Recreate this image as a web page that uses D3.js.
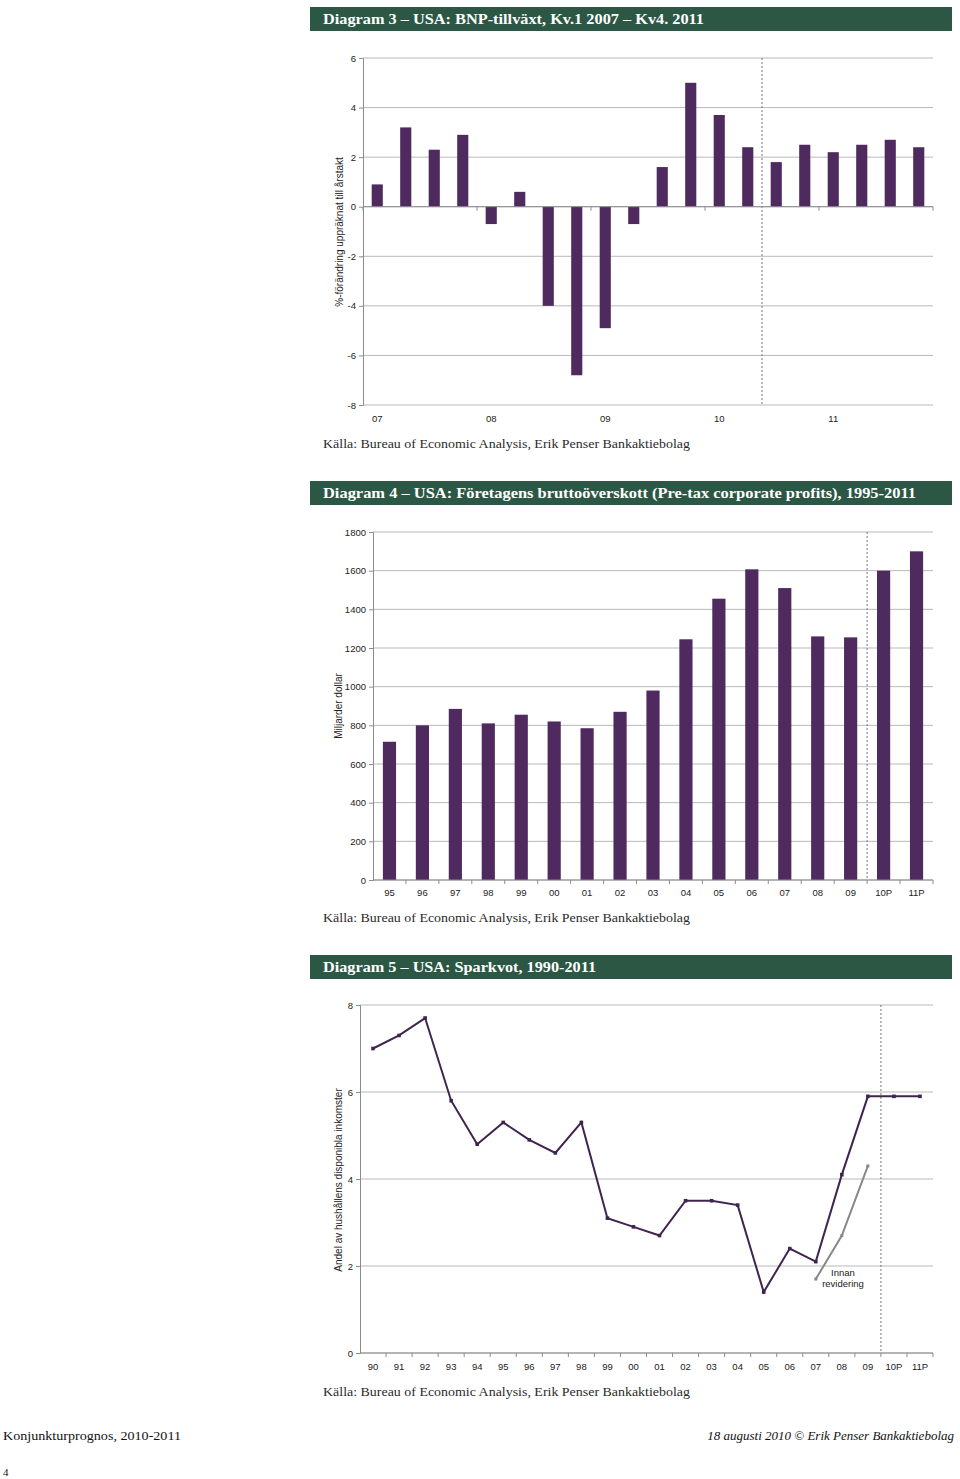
<!DOCTYPE html>
<html><head><meta charset="utf-8">
<script src="https://cdn.jsdelivr.net/npm/d3@7/dist/d3.min.js"></script>
<style>body{margin:0;background:#fff}svg{display:block}</style>
</head><body>
<script>
// ---------- DATA ----------
const gdpQuarters = ["07Q1","07Q2","07Q3","07Q4","08Q1","08Q2","08Q3","08Q4","09Q1","09Q2","09Q3","09Q4","10Q1","10Q2","10Q3","10Q4","11Q1","11Q2","11Q3","11Q4"];
const gdpValues = [0.9,3.2,2.3,2.9,-0.7,0.6,-4.0,-6.8,-4.9,-0.7,1.6,5.0,3.7,2.4,1.8,2.5,2.2,2.5,2.7,2.4];
const gdpYearLabels = ["07","08","09","10","11"];
const gdpTicks = [-8,-6,-4,-2,0,2,4,6];

const profitYears = ["95","96","97","98","99","00","01","02","03","04","05","06","07","08","09","10P","11P"];
const profitValues = [715,800,885,810,855,820,785,870,980,1245,1455,1607,1510,1260,1255,1600,1700];
const profitTicks = [0,200,400,600,800,1000,1200,1400,1600,1800];

const saveYears = ["90","91","92","93","94","95","96","97","98","99","00","01","02","03","04","05","06","07","08","09","10P","11P"];
const saveValues = [7.0,7.3,7.7,5.8,4.8,5.3,4.9,4.6,5.3,3.1,2.9,2.7,3.5,3.5,3.4,1.4,2.4,2.1,4.1,5.9,5.9,5.9];
const prevYears = ["07","08","09"];
const prevValues = [1.7,2.7,4.3];
const saveTicks = [0,2,4,6,8];

const titles = [
  "Diagram 3 – USA: BNP-tillväxt, Kv.1 2007 – Kv4. 2011",
  "Diagram 4 – USA: Företagens bruttoöverskott (Pre-tax corporate profits), 1995-2011",
  "Diagram 5 – USA: Sparkvot, 1990-2011"
];
const yTitles = ["%-förändring uppräknat till årstakt","Miljarder dollar","Andel av hushållens disponibla inkomster"];
const source = "Källa: Bureau of Economic Analysis, Erik Penser Bankaktiebolag";

// ---------- STYLE ----------
const GREEN = "#2b5744", PURPLE = "#4f2a5f", GRID = "#b9b9b9", AX = "#8c8c8c";
const SANS = "'Liberation Sans', Arial, sans-serif";
const SERIF = "'Liberation Serif', 'DejaVu Serif', serif";

const svg = d3.select("body").append("svg").attr("width",960).attr("height",1479);

function header(y, text, len){
  svg.append("rect").attr("x",310).attr("y",y).attr("width",642).attr("height",24).attr("fill",GREEN);
  svg.append("text").attr("x",323).attr("y",y+17).attr("fill","#fff")
    .attr("font-family",SERIF).attr("font-weight","bold").attr("font-size",15)
    .attr("textLength",len).attr("lengthAdjust","spacingAndGlyphs").text(text);
}
function sourceLine(y){
  svg.append("text").attr("x",323).attr("y",y).attr("fill","#2a2a2a")
    .attr("font-family",SERIF).attr("font-size",13.5)
    .attr("textLength",367).attr("lengthAdjust","spacingAndGlyphs").text(source);
}
function yTitle(x, yc, text){
  svg.append("text").attr("transform",`translate(${x},${yc}) rotate(-90)`)
    .attr("text-anchor","middle").attr("font-family",SANS).attr("font-size",10)
    .attr("fill","#222").text(text);
}
const hyphenFmt = d => String(d);
function yAxis(g, y, x0, x1, ticks){
  g.selectAll(".grid").data(ticks).join("line")
    .attr("x1",x0).attr("x2",x1).attr("y1",d=>y(d)).attr("y2",d=>y(d))
    .attr("stroke",GRID).attr("stroke-width",1);
  const ax = g.append("g").attr("transform",`translate(${x0},0)`)
    .call(d3.axisLeft(y).tickValues(ticks).tickSize(4).tickPadding(3).tickFormat(hyphenFmt));
  ax.select(".domain").attr("stroke",AX);
  ax.selectAll(".tick line").attr("stroke",AX);
  ax.selectAll("text").attr("font-family",SANS).attr("font-size",9.5).attr("fill","#222");
}

// ---------- CHART 1 ----------
header(7, titles[0], 381);
{
  const g = svg.append("g");
  const x = d3.scaleBand().domain(gdpQuarters).range([363,933]).paddingInner(0.61).paddingOuter(0.305);
  const y = d3.scaleLinear().domain([-8,6]).range([405,58]);
  yAxis(g, y, 363, 933, gdpTicks);
  const step = x.step();
  const xd = x("10Q3") - x.paddingInner()*step/2;
  g.append("line").attr("x1",xd).attr("x2",xd).attr("y1",58).attr("y2",405)
    .attr("stroke","#777").attr("stroke-dasharray","2,2");
  g.selectAll(".bar").data(gdpValues).join("rect")
    .attr("x",(d,i)=>x(gdpQuarters[i])).attr("width",x.bandwidth())
    .attr("y",d=>y(Math.max(0,d))).attr("height",d=>Math.abs(y(d)-y(0)))
    .attr("fill",PURPLE);
  g.append("line").attr("x1",363).attr("x2",933).attr("y1",y(0)).attr("y2",y(0)).attr("stroke",AX);
  const yearStarts = gdpQuarters.filter(q=>q.endsWith("Q1"));
  g.selectAll(".yt").data(yearStarts.concat(["end"])).join("line")
    .attr("x1",d=> d==="end"?933:x(d)-x.paddingInner()*step/2)
    .attr("x2",d=> d==="end"?933:x(d)-x.paddingInner()*step/2)
    .attr("y1",y(0)).attr("y2",y(0)+4).attr("stroke",AX);
  g.selectAll(".xl").data(gdpYearLabels).join("text")
    .attr("x",(d,i)=>x(yearStarts[i])+x.bandwidth()/2).attr("y",422)
    .attr("text-anchor","middle").attr("font-family",SANS).attr("font-size",9.5).attr("fill","#222")
    .text(d=>d);
  yTitle(343, 232, yTitles[0]);
}
sourceLine(448);

// ---------- CHART 2 ----------
header(481, titles[1], 593);
{
  const g = svg.append("g");
  const x = d3.scaleBand().domain(profitYears).range([373,933]).paddingInner(0.6).paddingOuter(0.3);
  const y = d3.scaleLinear().domain([0,1800]).range([880,532]);
  yAxis(g, y, 373, 933, profitTicks);
  const step = x.step();
  const xd = x("10P") - x.paddingInner()*step/2;
  g.append("line").attr("x1",xd).attr("x2",xd).attr("y1",532).attr("y2",880)
    .attr("stroke","#777").attr("stroke-dasharray","2,2");
  g.selectAll(".bar").data(profitValues).join("rect")
    .attr("x",(d,i)=>x(profitYears[i])).attr("width",x.bandwidth())
    .attr("y",d=>y(d)).attr("height",d=>y(0)-y(d)).attr("fill",PURPLE);
  g.append("line").attr("x1",373).attr("x2",933).attr("y1",y(0)).attr("y2",y(0)).attr("stroke",AX);
  g.selectAll(".xt").data(profitYears).join("line")
    .attr("x1",d=>x(d)+x.bandwidth()+x.paddingInner()*step/2).attr("x2",d=>x(d)+x.bandwidth()+x.paddingInner()*step/2)
    .attr("y1",y(0)).attr("y2",y(0)+4).attr("stroke",AX);
  g.selectAll(".xl").data(profitYears).join("text")
    .attr("x",d=>x(d)+x.bandwidth()/2).attr("y",896)
    .attr("text-anchor","middle").attr("font-family",SANS).attr("font-size",9.5).attr("fill","#222").text(d=>d);
  yTitle(342, 706, yTitles[1]);
}
sourceLine(922);

// ---------- CHART 3 ----------
header(955, titles[2], 273);
{
  const g = svg.append("g");
  const x = d3.scaleBand().domain(saveYears).range([360,933]);
  const cx = d => x(d)+x.bandwidth()/2;
  const y = d3.scaleLinear().domain([0,8]).range([1353,1005]);
  yAxis(g, y, 360, 933, saveTicks);
  const xd = x("10P");
  g.append("line").attr("x1",xd).attr("x2",xd).attr("y1",1005).attr("y2",1353)
    .attr("stroke","#777").attr("stroke-dasharray","2,2");
  g.append("line").attr("x1",360).attr("x2",933).attr("y1",y(0)).attr("y2",y(0)).attr("stroke",AX);
  g.selectAll(".xt").data(saveYears).join("line")
    .attr("x1",d=>x(d)+x.bandwidth()).attr("x2",d=>x(d)+x.bandwidth())
    .attr("y1",y(0)).attr("y2",y(0)+4).attr("stroke",AX);
  g.selectAll(".xl").data(saveYears).join("text")
    .attr("x",cx).attr("y",1370)
    .attr("text-anchor","middle").attr("font-family",SANS).attr("font-size",9.5).attr("fill","#222").text(d=>d);
  const line = d3.line().x(d=>cx(d[0])).y(d=>y(d[1]));
  const prev = prevYears.map((d,i)=>[d,prevValues[i]]);
  g.append("path").datum(prev).attr("d",line).attr("fill","none").attr("stroke","#888").attr("stroke-width",2);
  g.selectAll(".pm").data(prev).join("rect")
    .attr("x",d=>cx(d[0])-1.5).attr("y",d=>y(d[1])-1.5).attr("width",3).attr("height",3).attr("fill","#888");
  const main = saveYears.map((d,i)=>[d,saveValues[i]]);
  g.append("path").datum(main).attr("d",line).attr("fill","none").attr("stroke","#3f2450").attr("stroke-width",2);
  g.selectAll(".mm").data(main).join("rect")
    .attr("x",d=>cx(d[0])-1.8).attr("y",d=>y(d[1])-1.8).attr("width",3.6).attr("height",3.6).attr("fill","#3f2450");
  const ann = g.append("text").attr("text-anchor","middle").attr("font-family",SANS).attr("font-size",9.5).attr("fill","#222");
  ann.append("tspan").attr("x",843).attr("y",1276).text("Innan");
  ann.append("tspan").attr("x",843).attr("y",1287).text("revidering");
  yTitle(342, 1180, yTitles[2]);
}
sourceLine(1396);

// ---------- FOOTER ----------
svg.append("text").attr("x",3).attr("y",1440).attr("font-family",SERIF).attr("font-size",13.5).attr("fill","#111")
  .attr("textLength",178).attr("lengthAdjust","spacingAndGlyphs").text("Konjunkturprognos, 2010-2011");
svg.append("text").attr("x",954).attr("y",1440).attr("text-anchor","end").attr("font-family",SERIF)
  .attr("font-style","italic").attr("font-size",13).attr("fill","#111")
  .text("18 augusti 2010 © Erik Penser Bankaktiebolag");
svg.append("text").attr("x",3).attr("y",1476).attr("font-family",SERIF).attr("font-size",11).attr("fill","#111").text("4");
</script>
</body></html>
